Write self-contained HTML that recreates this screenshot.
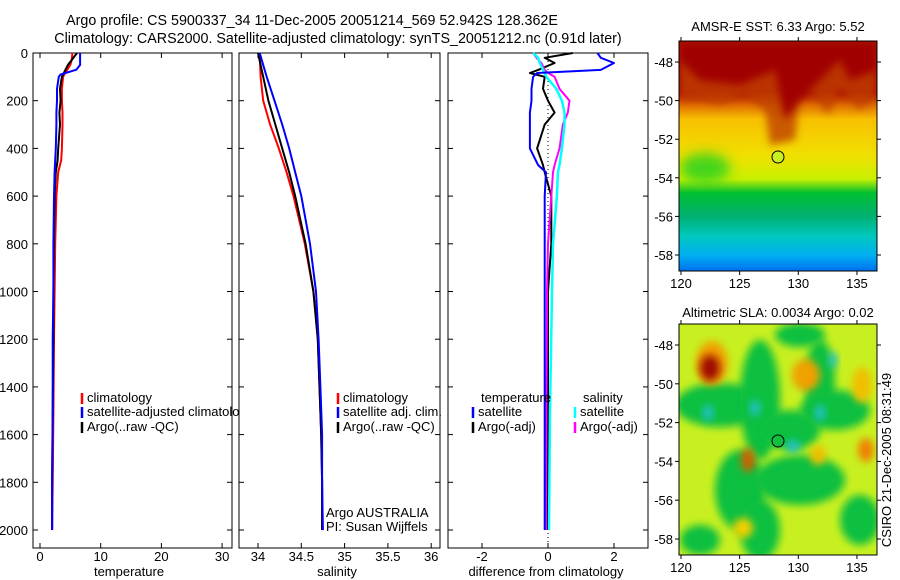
<!DOCTYPE html>
<html><head><meta charset="utf-8">
<style>
body{margin:0;background:#fff;}
svg{display:block;font-family:"Liberation Sans",sans-serif;}
text{font-size:13px;fill:#000;}
text.ttl{font-size:14.3px;}
</style></head>
<body>
<svg id="fig" width="900" height="580" viewBox="0 0 900 580">
<defs>
<linearGradient id="sstGrad" x1="0" y1="0" x2="0" y2="1">
<stop offset="0" stop-color="#a00000"/><stop offset="0.22" stop-color="#a80000"/>
<stop offset="0.28" stop-color="#e07000"/><stop offset="0.34" stop-color="#f8c000"/>
<stop offset="0.5" stop-color="#f0e000"/><stop offset="0.6" stop-color="#c8f000"/>
<stop offset="0.66" stop-color="#00c030"/><stop offset="0.76" stop-color="#00b070"/>
<stop offset="0.85" stop-color="#00c8c0"/><stop offset="0.93" stop-color="#00b0f0"/>
<stop offset="1" stop-color="#0070f0"/></linearGradient>
<filter id="blur" x="-50%" y="-50%" width="200%" height="200%"><feGaussianBlur stdDeviation="6"/></filter>
<filter id="blur2" x="-50%" y="-50%" width="200%" height="200%"><feGaussianBlur stdDeviation="4"/></filter>
<clipPath id="clipSst"><rect x="679" y="41" width="198" height="230"/></clipPath>
<clipPath id="clipSla"><rect x="679" y="324" width="198" height="231"/></clipPath>
<clipPath id="clipP1"><rect x="0" y="0" width="239" height="580"/></clipPath>
</defs>
<g id="layer"></g>
</svg>
<script>
// ---------- data ----------
const depthTicks=[0,200,400,600,800,1000,1200,1400,1600,1800,2000];
const tempTicks=[0,10,20,30];
const salTicks=[34,34.5,35,35.5,36];
const diffTicks=[-2,0,2];
const depthT=[0,10,30,50,70,90,100,150,200,250,300,400,450,500,600,800,1000,1200,1500,1800,2000];
const tempClim=[5.3,5.3,5.2,5.0,4.5,4.0,3.8,3.6,3.6,3.7,3.7,3.6,3.5,3.0,2.7,2.5,2.4,2.3,2.2,2.1,2.0];
const tempArgo=[6.1,5.8,5.2,4.6,4.2,3.8,3.6,3.3,3.4,3.2,3.3,3.0,2.9,2.6,2.4,2.3,2.2,2.2,2.1,2.0,2.0];
const tempSat=[6.6,6.6,6.6,6.6,6.0,3.4,3.1,2.8,2.8,2.7,2.7,2.6,2.5,2.4,2.3,2.2,2.2,2.1,2.1,2.0,2.0];
const depthS=[0,100,200,300,400,500,600,800,1000,1200,1400,1600,1800,2000];
const salClim=[34.02,34.03,34.06,34.14,34.24,34.33,34.41,34.54,34.64,34.69,34.71,34.73,34.74,34.74];
const salArgo=[34.0,34.06,34.12,34.2,34.28,34.36,34.43,34.55,34.64,34.69,34.71,34.73,34.74,34.74];
const salSat=[34.02,34.1,34.19,34.28,34.36,34.43,34.5,34.6,34.67,34.7,34.72,34.74,34.74,34.75];
const depthD=[0,20,42,71,84,100,150,200,250,300,400,470,500,600,800,1000,1500,2000];
const dTempSat=[1.5,1.6,2.0,1.6,-0.33,-0.45,-0.5,-0.5,-0.55,-0.55,-0.55,-0.3,-0.06,-0.1,-0.1,-0.1,-0.1,-0.1];
const dTempArgo=[0.75,-0.1,0.2,-0.3,-0.55,-0.1,-0.15,0.0,0.2,-0.1,-0.33,-0.15,-0.1,0.1,0.1,0.0,0.0,0.0];
const dSalSat=[-0.45,-0.3,-0.25,-0.15,-0.1,-0.05,0.25,0.42,0.5,0.5,0.42,0.35,0.3,0.27,0.15,0.12,0.06,0.03];
const dSalArgo=[-0.45,-0.35,-0.2,-0.1,0.0,0.2,0.35,0.65,0.6,0.45,0.35,0.2,0.15,0.1,0.0,-0.03,-0.05,-0.06];
const lonTicks=[120,125,130,135];
const latTicks=[-48,-50,-52,-54,-56,-58];

// ---------- helpers ----------
const NS="http://www.w3.org/2000/svg";
const L=document.getElementById('layer');
function mk(tag,at,parent){const e=document.createElementNS(NS,tag);for(const k in at)e.setAttribute(k,at[k]);(parent||L).appendChild(e);return e;}
function txt(x,y,s,anchor,parent){const t=mk('text',{x:x,y:y,'text-anchor':anchor||'start'},parent);t.textContent=s;return t;}
const yD=d=>53+d*0.2385;
const P1={x0:33,x1:232,sx:v=>40+v*6.07};
const P2={x0:239,x1:440,sx:v=>258+(v-34)*86.6};
const P3={x0:448,x1:648,sx:v=>548+v*33};
const TOP=53,BOT=548;

function axes(P,ticks,fmt,name){
  const r=mk('rect',{x:P.x0,y:TOP,width:P.x1-P.x0,height:BOT-TOP,fill:'none',stroke:'#000','stroke-width':1});
  
  
  ticks.forEach(v=>{const x=P.sx(v);
    mk('line',{x1:x,x2:x,y1:TOP,y2:TOP+5,stroke:'#000'});
    mk('line',{x1:x,x2:x,y1:BOT,y2:BOT-5,stroke:'#000'});
    const t=txt(x,561,fmt(v),'middle');
    
    });
  depthTicks.forEach(d=>{const y=yD(d);
    mk('line',{x1:P.x0,x2:P.x0+5,y1:y,y2:y,stroke:'#000'});
    mk('line',{x1:P.x1,x2:P.x1-5,y1:y,y2:y,stroke:'#000'});});
}
function line(P,xs,ds,color,w,name){
  const pts=xs.map((v,i)=>P.sx(v).toFixed(1)+','+yD(ds[i]).toFixed(1)).join(' ');
  const p=mk('polyline',{points:pts,fill:'none',stroke:color,'stroke-width':w,'stroke-linejoin':'round'});
  
  
}
function legend(x,y,color,label,name,parent){
  mk('line',{x1:x,x2:x,y1:y-9,y2:y+2,stroke:color,'stroke-width':2.5},parent);
  const t=txt(x+5,y,label,'start',parent);
  
  
}

// titles
let t=txt(312,25,'Argo profile: CS 5900337_34 11-Dec-2005 20051214_569 52.942S 128.362E','middle');
t.setAttribute('class','ttl');


t=txt(338,43,'Climatology: CARS2000. Satellite-adjusted climatology: synTS_20051212.nc (0.91d later)','middle');
t.setAttribute('class','ttl');



// depth labels
depthTicks.forEach(d=>{const t=txt(28,yD(d)+5,String(d),'end');
  
  });

// panel 1
axes(P1,tempTicks,v=>String(v),'temperature');
line(P1,tempClim,depthT,'#f00',2,'temp-climatology-line');
line(P1,tempArgo,depthT,'#000',2,'temp-argo-line');
line(P1,tempSat,depthT,'#00f',2,'temp-satellite-line');
t=txt(129,576,'temperature','middle');


const lg1=mk('g',{'clip-path':'url(#clipP1)'});
legend(82,402,'#f00','climatology','legend-climatology',lg1);
legend(82,416,'#00f','satellite-adjusted climatology','legend-satellite-adjusted',lg1);
legend(82,431,'#000','Argo(..raw -QC)','legend-argo',lg1);

// panel 2
axes(P2,salTicks,v=>String(v),'salinity');
line(P2,salClim,depthS,'#f00',2,'sal-climatology-line');
line(P2,salArgo,depthS,'#000',2,'sal-argo-line');
line(P2,salSat,depthS,'#00f',2,'sal-satellite-line');
t=txt(337,576,'salinity','middle');


legend(338,402,'#f00','climatology','legend-sal-climatology');
legend(338,416,'#00f','satellite adj. clim.','legend-sal-satellite');
legend(338,431,'#000','Argo(..raw -QC)','legend-sal-argo');
txt(326,517,'Argo AUSTRALIA');
txt(326,531,'PI: Susan Wijffels');

// panel 3
axes(P3,diffTicks,v=>String(v),'difference');
mk('line',{x1:548,x2:548,y1:TOP,y2:BOT,stroke:'#000','stroke-dasharray':'1,3'});
line(P3,dTempArgo,depthD,'#000',2,'diff-temp-argo-line');
line(P3,dSalArgo,depthD,'#f0f',2,'diff-sal-argo-line');
line(P3,dSalSat,depthD,'#0ff',2.5,'diff-sal-satellite-line');
line(P3,dTempSat,depthD,'#00f',2,'diff-temp-satellite-line');
t=txt(546,576,'difference from climatology','middle');


txt(481,402,'temperature');txt(583,402,'salinity');
legend(473,416,'#00f','satellite','legend-diff-temp-satellite');
legend(473,431,'#000','Argo(-adj)','legend-diff-temp-argo');
legend(575,416,'#0ff','satellite','legend-diff-sal-satellite');
legend(575,431,'#f0f','Argo(-adj)','legend-diff-sal-argo');

// maps
const lonX=lon=>681+(lon-120)*11.73;
function mapAxes(y0,y1,latY,name){
  const r=mk('rect',{x:679,y:y0,width:198,height:y1-y0,fill:'none',stroke:'#000'});
  
  
  lonTicks.forEach(l=>{const x=lonX(l);
    mk('line',{x1:x,x2:x,y1:y1,y2:y1+4,stroke:'#000'});
    mk('line',{x1:x,x2:x,y1:y0,y2:y0-4,stroke:'#000'});
    txt(x,y1+17,String(l),'middle');});
  latTicks.forEach(la=>{const y=latY(la);
    mk('line',{x1:679,x2:675,y1:y,y2:y,stroke:'#000'});
    mk('line',{x1:877,x2:881,y1:y,y2:y,stroke:'#000'});
    txt(673,y+5,String(la),'end');});
}
// SST
const g1=mk('g',{'clip-path':'url(#clipSst)'});


mk('rect',{x:679,y:41,width:198,height:230,fill:'url(#sstGrad)'},g1);
mk('path',{d:'M679,41 L877,41 L877,95 L860,110 L840,90 L828,115 L815,95 L800,92 L795,140 L770,145 L765,110 L745,95 L720,105 L700,100 L679,98 Z',fill:'#c04000',filter:'url(#blur2)',opacity:0.8},g1);
mk('path',{d:'M679,41 L877,41 L877,70 L850,80 L840,60 L825,75 L800,100 L785,120 L775,70 L740,85 L700,80 L679,60 Z',fill:'#a00000',filter:'url(#blur2)'},g1);
mk('ellipse',{cx:705,cy:168,rx:25,ry:15,fill:'#20d020',filter:'url(#blur)',opacity:0.8},g1);
mk('circle',{cx:778,cy:157,r:6,fill:'#c8f020',stroke:'#000','stroke-width':1},g1);
mapAxes(41,271,la=>62+(-48-la)*19.3,'sst');
t=txt(778,31,'AMSR-E SST: 6.33 Argo: 5.52','middle');



// SLA
const g2=mk('g',{'clip-path':'url(#clipSla)'});


mk('rect',{x:679,y:324,width:198,height:231,fill:'#c8f020'},g2);
[[720,405,45,22],[760,400,20,60],[820,380,15,40],[835,410,35,20],[790,430,30,20],[740,490,25,40],[800,480,45,25],[760,530,20,30],[860,520,20,25],[800,335,25,12],[700,540,20,15]].forEach(a=>
  mk('ellipse',{cx:a[0],cy:a[1],rx:a[2],ry:a[3],fill:'#10c040',filter:'url(#blur2)'},g2));
[[712,363,16,22,'#f0a000'],[710,368,10,13,'#a01000'],[806,375,14,16,'#f0a000'],[862,385,10,18,'#f0c000'],[748,460,7,12,'#d06000'],[866,450,8,12,'#f08000'],[818,455,8,10,'#f0c000'],[743,528,10,10,'#f0d000']].forEach(a=>
  mk('ellipse',{cx:a[0],cy:a[1],rx:a[2],ry:a[3],fill:a[4],filter:'url(#blur2)'},g2));
[[708,413,5,8],[755,408,5,8],[820,413,5,8],[833,360,4,8],[793,446,7,6]].forEach(a=>
  mk('ellipse',{cx:a[0],cy:a[1],rx:a[2],ry:a[3],fill:'#20c0d0',filter:'url(#blur2)'},g2));
mk('circle',{cx:778,cy:441,r:6,fill:'#10c040',stroke:'#000','stroke-width':1},g2);
mapAxes(324,555,la=>345+(-48-la)*19.4,'sla');
t=txt(778,317,'Altimetric SLA: 0.0034 Argo: 0.02','middle');


t=txt(0,0,'CSIRO 21-Dec-2005 08:31:49','middle');
t.setAttribute('transform','translate(891,460) rotate(-90)');


</script>
</body></html>
